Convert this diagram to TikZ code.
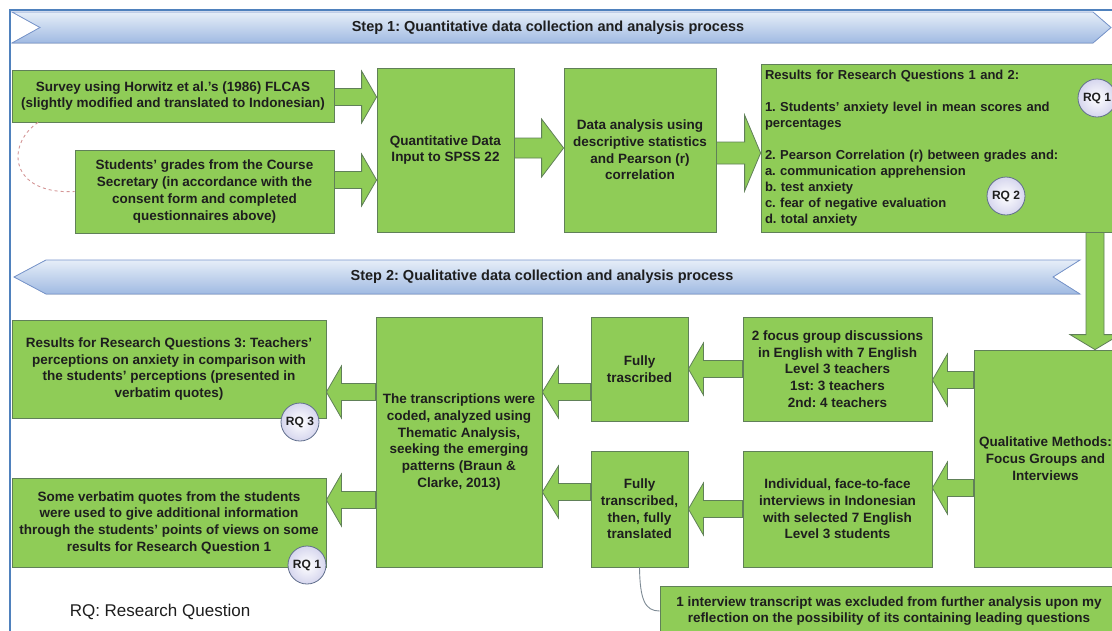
\documentclass[tikz,border=0pt]{standalone}
\usepackage{fontspec}
\setmainfont{Liberation Sans}
\usepackage{xcolor}
\usetikzlibrary{calc,shadings}
\frenchspacing

\definecolor{boxgreen}{RGB}{143,204,87}
\definecolor{boxline}{RGB}{96,128,88}
\definecolor{textdark}{RGB}{30,30,30}
\definecolor{bannertop}{RGB}{230,238,248}
\definecolor{bannerbot}{RGB}{160,186,226}
\definecolor{bannerline}{RGB}{120,150,205}
\definecolor{frameblue}{RGB}{79,129,189}
\definecolor{circfill}{RGB}{214,214,238}
\definecolor{circline}{RGB}{96,110,140}
\definecolor{linkred}{RGB}{212,150,150}
\definecolor{notegrey}{RGB}{125,138,148}

\newcommand{\boxfont}{\fontsize{13.5}{16.7}\selectfont\bfseries}
\newcommand{\bannerfont}{\fontsize{14.5}{17}\selectfont\bfseries}
\newcommand{\rqfont}{\fontsize{12}{14}\selectfont\bfseries}

% block arrow pointing right: from, to, y, body half, head half, head depth
\newcommand{\blockright}[6]{%
  \filldraw[blockarrow]
    ($(#1.east |- 0,#3)+(0,-#4)$) --
    ($(#2.west |- 0,#3)+(-#6,-#4)$) --
    ($(#2.west |- 0,#3)+(-#6,-#5)$) --
    (#2.west |- 0,#3) --
    ($(#2.west |- 0,#3)+(-#6,#5)$) --
    ($(#2.west |- 0,#3)+(-#6,#4)$) --
    ($(#1.east |- 0,#3)+(0,#4)$) -- cycle;}
% block arrow pointing left
\newcommand{\blockleft}[6]{%
  \filldraw[blockarrow]
    ($(#1.west |- 0,#3)+(0,-#4)$) --
    ($(#2.east |- 0,#3)+(#6,-#4)$) --
    ($(#2.east |- 0,#3)+(#6,-#5)$) --
    (#2.east |- 0,#3) --
    ($(#2.east |- 0,#3)+(#6,#5)$) --
    ($(#2.east |- 0,#3)+(#6,#4)$) --
    ($(#1.west |- 0,#3)+(0,#4)$) -- cycle;}

\begin{document}
\begin{tikzpicture}[x=1pt, y=-1pt,
        stage/.style={draw=boxline, fill=boxgreen, line width=0.8pt, text=textdark,
            font=\boxfont, align=center, inner sep=2pt},
        blockarrow/.style={draw=boxline, fill=boxgreen, line width=0.8pt},
        banner/.style={draw=bannerline, line width=0.8pt, top color=bannertop, bottom color=bannerbot},
        bannertext/.style={font=\bannerfont, text=textdark},
        rqmark/.style={circle, draw=circline, line width=0.8pt, inner color=white,
            outer color=circfill, minimum size=38pt, inner sep=0pt, font=\rqfont, text=textdark},
    ]
    \useasboundingbox (0,0) rectangle (1112,630);
    \clip (0,0) rectangle (1112,630);
    \fill[white] (0,0) rectangle (1112,630);

    % Frame
    \draw[frameblue, line width=1.6pt] (10,640) -- (10,10) -- (1130,10);

    % Step banners
    \filldraw[banner] (12,12) -- (1093,12) -- (1111,27.5) -- (1093,43) -- (12,43) -- (40,27.5) -- cycle;
    \node[bannertext] (step1) at (548,27.5) {Step 1: Quantitative data collection and analysis process};
    \filldraw[banner] (46,260) -- (1080,260) -- (1053,277) -- (1080,294) -- (46,294) -- (14,277) -- cycle;
    \node[bannertext] (step2) at (542,277) {Step 2: Qualitative data collection and analysis process};

    % Step 1 boxes
    \node[stage, minimum width=322pt, minimum height=52pt] (survey) at (173,96)
        {Survey using Horwitz et al.'s (1986) FLCAS\\(slightly modified and translated to Indonesian)};
    \node[stage, minimum width=259pt, minimum height=83pt] (grades) at (204.5,191.5)
        {Students' grades from the Course\\Secretary (in accordance with the\\consent form and completed\\questionnaires above)};
    \node[stage, minimum width=137pt, minimum height=164pt] (spss) at (445.5,150)
        {Quantitative Data\\Input to SPSS 22};
    \node[stage, minimum width=152pt, minimum height=164pt] (analysis) at (640,150)
        {Data analysis using\\descriptive statistics\\and Pearson (r)\\correlation};
    \node[stage, minimum width=369pt, minimum height=168pt, align=left, text width=361pt,
          inner xsep=4pt, font=\fontsize{13}{16}\selectfont\bfseries] (results) at (945.5,148)
        {Results for Research Questions 1 and 2:\\[16pt]
         1. Students' anxiety level in mean scores and\\percentages\\[16pt]
         2. Pearson Correlation (r) between grades and:\\
         a. communication apprehension\\
         b. test anxiety\\
         c. fear of negative evaluation\\
         d. total anxiety};

    % Step 2 boxes
    \node[stage, minimum width=143pt, minimum height=217pt] (qual) at (1045.5,458.5)
        {Qualitative Methods:\\Focus Groups and\\Interviews};
    \node[stage, minimum width=189pt, minimum height=104pt] (focus) at (837.5,369)
        {2 focus group discussions\\in English with 7 English\\Level 3 teachers\\1st: 3 teachers\\2nd: 4 teachers};
    \node[stage, minimum width=189pt, minimum height=116pt] (interviews) at (837.5,509)
        {Individual, face-to-face\\interviews in Indonesian\\with selected 7 English\\Level 3 students};
    \node[stage, minimum width=97pt, minimum height=104pt] (transA) at (639.5,369)
        {Fully\\trascribed};
    \node[stage, minimum width=97pt, minimum height=116pt] (transB) at (639.5,509)
        {Fully\\transcribed,\\then, fully\\translated};
    \node[stage, minimum width=166pt, minimum height=250pt] (thematic) at (459,442)
        {The transcriptions were\\coded, analyzed using\\Thematic Analysis,\\seeking the emerging\\patterns (Braun \&\\Clarke, 2013)};
    \node[stage, minimum width=314pt, minimum height=98pt] (teacherres) at (169,369)
        {Results for Research Questions 3: Teachers'\\perceptions on anxiety in comparison with\\the students' perceptions (presented in\\verbatim quotes)};
    \node[stage, minimum width=314pt, minimum height=89pt] (quoteres) at (169,522.5)
        {Some verbatim quotes from the students\\were used to give additional information\\through the students' points of views on some\\results for Research Question 1};
    \node[stage, minimum width=458pt, minimum height=50pt, font=\fontsize{13.5}{15.7}\selectfont\bfseries] (note) at (889,611)
        {1 interview transcript was excluded from further analysis upon my\\reflection on the possibility of its containing leading questions};

    % Block arrows, step 1
    \blockright{survey}{spss}{97}{8.5}{26}{15}
    \blockright{grades}{spss}{180}{8.5}{26}{15}
    \blockright{spss}{analysis}{148}{10}{29}{22}
    \blockright{analysis}{results}{153}{11}{38}{16}

    % Block arrow down to step 2
    \filldraw[blockarrow]
        ($(1095,0 |- results.south)+(-9,0)$) --
        ($(1095,0 |- qual.north)+(-9,-15)$) --
        ($(1095,0 |- qual.north)+(-25,-15)$) --
        (1095,0 |- qual.north) --
        ($(1095,0 |- qual.north)+(25,-15)$) --
        ($(1095,0 |- qual.north)+(9,-15)$) --
        ($(1095,0 |- results.south)+(9,0)$) -- cycle;

    % Block arrows, step 2
    \blockleft{qual}{focus}{380}{8.5}{26}{15}
    \blockleft{qual}{interviews}{488}{8.5}{26}{15}
    \blockleft{focus}{transA}{369}{8.5}{26}{15}
    \blockleft{interviews}{transB}{509}{8.5}{26}{15}
    \blockleft{transA}{thematic}{392}{8.5}{26}{16}
    \blockleft{transB}{thematic}{492}{8.5}{26}{16}
    \blockleft{thematic}{teacherres}{392}{8.5}{26}{15}
    \blockleft{thematic}{quoteres}{500}{8.5}{26}{15}

    % Links
    \draw[linkred, line width=0.9pt, dashed] (38,0 |- survey.south)
        .. controls (5,145) and (10,195) .. (grades.west);
    \draw[notegrey, line width=0.9pt] (transB.south)
        .. controls (640,600) and (645,611) .. (note.west);

    % RQ markers
    \node[rqmark] (rqa) at (1097,98) {RQ 1};
    \node[rqmark] (rqb) at (1006,196) {RQ 2};
    \node[rqmark] (rqc) at (300,422) {RQ 3};
    \node[rqmark] (rqd) at (307,565) {RQ 1};

    % Legend
    \node[font=\fontsize{17}{20}\selectfont, text=textdark] (legend) at (160,612) {RQ: Research Question};
\end{tikzpicture}
\end{document}
